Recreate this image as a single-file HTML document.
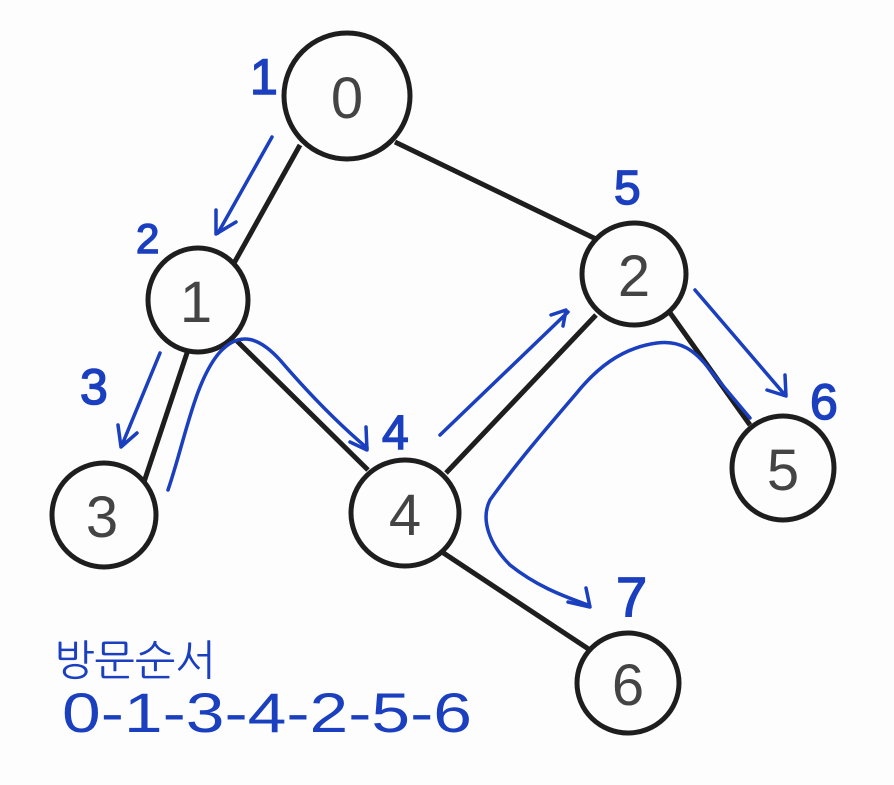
<!DOCTYPE html>
<html><head><meta charset="utf-8"><style>
html,body{margin:0;padding:0;background:#fdfdfd;}
svg{display:block}
.n{font-family:"Liberation Sans",sans-serif;fill:#444;font-size:58px;text-anchor:middle;}
.b{font-family:"Liberation Sans","NanumGothic",sans-serif;fill:#1a3fbf;}
</style></head><body>
<svg width="894" height="785" viewBox="0 0 894 785" xmlns="http://www.w3.org/2000/svg">
<rect width="894" height="785" fill="#fdfdfd"/>
<g stroke="#1e1e1e" stroke-width="5" fill="none">
<line x1="300" y1="145" x2="233" y2="265"/>
<line x1="395" y1="142" x2="598" y2="240"/>
<line x1="188" y1="350" x2="143" y2="485"/>
<line x1="236" y1="340" x2="368" y2="470"/>
<line x1="596" y1="315" x2="446" y2="473"/>
<line x1="668" y1="310" x2="750" y2="425"/>
<line x1="442" y1="552" x2="590" y2="650"/>
</g>
<g stroke="#1e1e1e" stroke-width="5" fill="#fdfdfd">
<ellipse cx="347" cy="96" rx="63" ry="63"/>
<ellipse cx="198" cy="300" rx="50" ry="52"/>
<ellipse cx="634" cy="274" rx="52" ry="51"/>
<ellipse cx="104" cy="515" rx="52" ry="52"/>
<ellipse cx="405" cy="513" rx="54" ry="53"/>
<ellipse cx="783" cy="468" rx="51" ry="52"/>
<ellipse cx="628" cy="683" rx="51" ry="50"/>
</g>
<text class="n" x="347" y="118">0</text>
<text class="n" x="196" y="322">1</text>
<text class="n" x="634" y="296">2</text>
<text class="n" x="102" y="537">3</text>
<text class="n" x="405" y="535">4</text>
<text class="n" x="783" y="490">5</text>
<text class="n" x="628" y="705">6</text>
<g stroke="#1a3fbf" stroke-width="3.5" fill="none" stroke-linecap="round" stroke-linejoin="round">
<line x1="272" y1="137" x2="218" y2="233"/><polyline points="216,210 216,234 236,222"/>
<line x1="160" y1="353" x2="122" y2="445"/><polyline points="118,425 121,447 137,433"/>
<path d="M168,490 C185,440 195,380 220,352 C240,330 260,338 280,360 C310,395 340,425 367,448"/><polyline points="366,427 367,450 350,442"/>
<line x1="440" y1="435" x2="568" y2="312"/><polyline points="551,315 566,310 563,326"/>
<line x1="695" y1="290" x2="785" y2="395"/><polyline points="785,375 786,396 767,390"/>
<path d="M750,418 C735,400 722,385 710,370 C695,350 680,340 657,343 C620,348 595,370 575,395 C545,430 515,465 490,500 C480,520 490,545 510,565 C535,585 560,595 588,605"/><polyline points="586,588 590,607 568,602"/>
</g>
<g class="b" stroke="#1a3fbf" stroke-width="1.5">
<text x="250" y="94" font-size="50">1</text>
<text x="136" y="253" font-size="42">2</text>
<text x="80" y="404" font-size="50">3</text>
<text x="382" y="449" font-size="48">4</text>
<text x="614" y="204" font-size="48">5</text>
<text x="810" y="419" font-size="50">6</text>
<text x="616" y="616" font-size="56">7</text>
</g>
<g class="b">
<text x="54" y="675" font-size="42" textLength="162" lengthAdjust="spacingAndGlyphs">방문순서</text>
<text x="62" y="732" font-size="56" textLength="410" lengthAdjust="spacingAndGlyphs">0-1-3-4-2-5-6</text>
</g>
</svg>
</body></html>
